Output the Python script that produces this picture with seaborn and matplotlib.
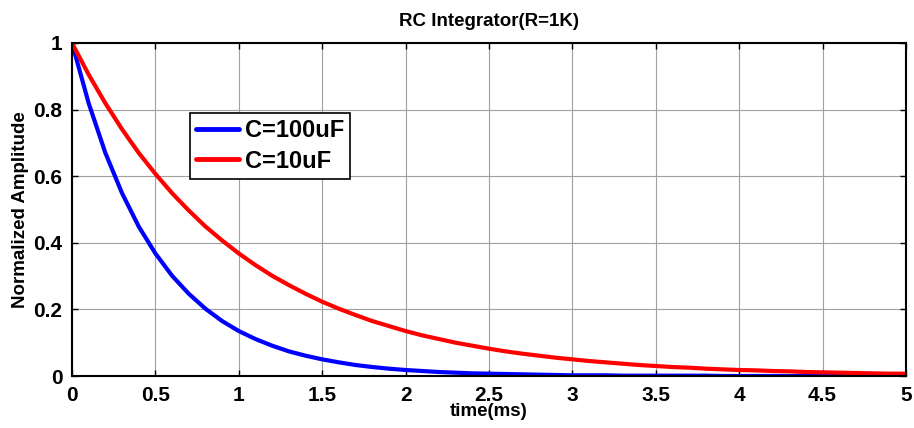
import numpy as np
import pandas as pd
import matplotlib
matplotlib.use("Agg")
import matplotlib.pyplot as plt
import seaborn as sns

time_ms = [0.0, 0.1, 0.2, 0.3, 0.4, 0.5, 0.6, 0.7, 0.8, 0.9,
           1.0, 1.1, 1.2, 1.3, 1.4, 1.5, 1.6, 1.7, 1.8, 1.9,
           2.0, 2.1, 2.2, 2.3, 2.4, 2.5, 2.6, 2.7, 2.8, 2.9,
           3.0, 3.1, 3.2, 3.3, 3.4, 3.5, 3.6, 3.7, 3.8, 3.9,
           4.0, 4.1, 4.2, 4.3, 4.4, 4.5, 4.6, 4.7, 4.8, 4.9, 5.0]

amp_100uF = [1.000, 0.819, 0.670, 0.549, 0.449, 0.368, 0.301, 0.247, 0.202, 0.165,
             0.135, 0.111, 0.091, 0.074, 0.061, 0.050, 0.041, 0.033, 0.027, 0.022,
             0.018, 0.015, 0.012, 0.010, 0.008, 0.007, 0.006, 0.005, 0.004, 0.003,
             0.002, 0.002, 0.002, 0.001, 0.001, 0.001, 0.001, 0.001, 0.001, 0.000,
             0.000, 0.000, 0.000, 0.000, 0.000, 0.000, 0.000, 0.000, 0.000, 0.000, 0.000]

amp_10uF = [1.000, 0.905, 0.819, 0.741, 0.670, 0.607, 0.549, 0.497, 0.449, 0.407,
            0.368, 0.333, 0.301, 0.273, 0.247, 0.223, 0.202, 0.183, 0.165, 0.150,
            0.135, 0.122, 0.111, 0.100, 0.091, 0.082, 0.074, 0.067, 0.061, 0.055,
            0.050, 0.045, 0.041, 0.037, 0.033, 0.030, 0.027, 0.025, 0.022, 0.020,
            0.018, 0.017, 0.015, 0.014, 0.012, 0.011, 0.010, 0.009, 0.008, 0.007, 0.007]

series_names = ["C=100uF", "C=10uF"]
series_colors = ["#0000ff", "#ff0000"]
x_ticks = [0, 0.5, 1, 1.5, 2, 2.5, 3, 3.5, 4, 4.5, 5]
x_tick_labels = ["0", "0.5", "1", "1.5", "2", "2.5", "3", "3.5", "4", "4.5", "5"]
y_ticks = [0, 0.2, 0.4, 0.6, 0.8, 1]
y_tick_labels = ["0", "0.2", "0.4", "0.6", "0.8", "1"]

df = pd.concat([
    pd.DataFrame({"t": time_ms, "amp": amp_100uF, "series": series_names[0]}),
    pd.DataFrame({"t": time_ms, "amp": amp_10uF, "series": series_names[1]}),
], ignore_index=True)

sns.set_style("white")
plt.rcParams["font.family"] = ["Liberation Sans", "DejaVu Sans"]
plt.rcParams["font.weight"] = "bold"
plt.rcParams["text.color"] = "black"
plt.rcParams["axes.labelcolor"] = "black"
plt.rcParams["xtick.color"] = "black"
plt.rcParams["ytick.color"] = "black"

fig = plt.figure(figsize=(9.14, 4.28), dpi=100)
ax = fig.add_axes([72/914, 1-376/428, (906-72)/914, (376-43)/428])

sns.lineplot(data=df, x="t", y="amp", hue="series", hue_order=series_names,
             palette=series_colors, linewidth=3, ax=ax, legend=True)

ax.set_xlim(0, 5)
ax.set_ylim(0, 1)
ax.set_xticks(x_ticks)
ax.set_xticklabels(x_tick_labels, fontsize=15, fontweight="bold", color="black")
ax.set_yticks(y_ticks)
ax.set_yticklabels(y_tick_labels, fontsize=15, fontweight="bold", color="black")
ax.grid(True, color="#a0a0a0", linewidth=0.8, linestyle="-")
ax.tick_params(direction="in", length=4, width=1, top=True, right=True,
               bottom=True, left=True, colors="black")
ax.tick_params(axis="x", pad=7)
ax.tick_params(axis="y", pad=7)
for s in ax.spines.values():
    s.set_visible(True)
    s.set_color("black")
    s.set_linewidth(1.5)

ax.set_title("RC Integrator(R=1K)", fontsize=13.5, fontweight="bold", pad=12,
             color="black")
ax.set_xlabel("time(ms)", fontsize=13.5, fontweight="bold", labelpad=-1,
              color="black")
ax.set_ylabel("Normalized Amplitude", fontsize=13.5, fontweight="bold", labelpad=3,
              color="black")

leg = ax.legend(loc="upper left", bbox_to_anchor=(0.142, 0.789), fancybox=False,
                framealpha=1, edgecolor="black", fontsize=17, handlelength=1.8,
                borderpad=0.25, labelspacing=0.32, handletextpad=0.25,
                borderaxespad=0)
leg.get_frame().set_linewidth(1.2)
for t in leg.get_texts():
    t.set_fontweight("bold")
    t.set_color("black")
for l in leg.get_lines():
    l.set_linewidth(3.5)

fig.savefig("out.png", dpi=100)
